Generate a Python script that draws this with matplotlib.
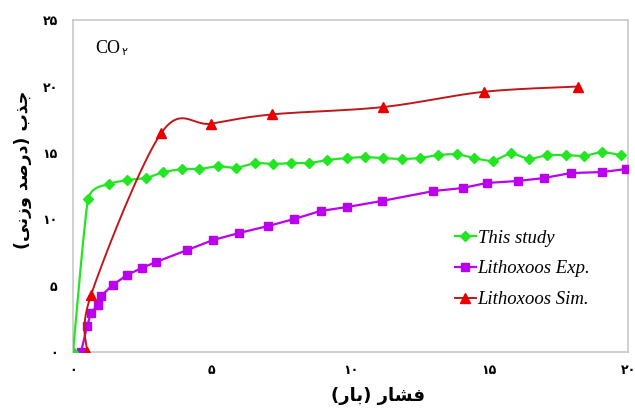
import numpy as np
import matplotlib
matplotlib.use("Agg")
import matplotlib.pyplot as plt

# data
study_x = [0, 0.54, 1.30, 1.95, 2.64, 3.25, 3.94, 4.55, 5.23, 5.88, 6.57, 7.22, 7.87,
           8.52, 9.17, 9.86, 10.51, 11.16, 11.84, 12.49, 13.14, 13.83, 14.44, 15.13,
           15.78, 16.43, 17.08, 17.76, 18.41, 19.06, 19.75]
study_y = [0, 11.5, 12.65, 12.95, 13.1, 13.55, 13.78, 13.78, 14.0, 13.86, 14.23, 14.16,
           14.23, 14.23, 14.46, 14.61, 14.68, 14.61, 14.53, 14.61, 14.83, 14.91, 14.61,
           14.38, 14.98, 14.53, 14.83, 14.83, 14.76, 15.06, 14.83]

exp_x = [0.29, 0.51, 0.65, 0.90, 1.01, 1.44, 1.95, 2.49, 3.0, 4.12, 5.05, 5.99, 7.04,
         7.98, 8.92, 9.89, 11.12, 12.99, 14.04, 14.91, 16.03, 16.97, 17.94, 19.06, 19.93]
exp_y = [0, 1.96, 2.94, 3.54, 4.22, 5.05, 5.80, 6.33, 6.78, 7.68, 8.43, 8.96, 9.49,
         10.02, 10.62, 10.92, 11.37, 12.12, 12.35, 12.73, 12.88, 13.10, 13.48, 13.55, 13.78]

sim_x = [0.5, 0.65, 3.18, 4.98, 7.18, 11.16, 14.8, 18.2]
sim_y = [0, 4.3, 16.5, 17.2, 17.9, 18.45, 19.6, 20.0]

x_ticks = [0, 5, 10, 15, 20]
y_ticks = [0, 5, 10, 15, 20, 25]
fa_digits = "۰۱۲۳۴۵۶۷۸۹"

series_names = ["This study", "Lithoxoos Exp.", "Lithoxoos Sim."]

# shaped persian text, written in visual (left to right) order
x_label = "(\uFEAD\uFE8E\uFE91) \uFEAD\uFE8E\uFEB8\uFED3"
y_label = "(\uFEF0\uFEE7\uFEAF\uFEED \uFEAA\uFEBB\uFEAD\uFEA9) \uFE8F\uFEAC\uFE9F"


def fa(n):
    return "".join(fa_digits[int(c)] for c in str(n))


def smooth(xs, ys, k=6.0, steps=20):
    # excel-like smoothed line: bezier through points, catmull-rom control points
    p = np.column_stack([xs, ys]).astype(float)
    out = [p[0]]
    t = np.linspace(0, 1, steps)[1:, None]
    for i in range(len(p) - 1):
        p0 = p[i - 1] if i > 0 else p[i]
        p1, p2 = p[i], p[i + 1]
        p3 = p[i + 2] if i + 2 < len(p) else p[i + 1]
        c1 = p1 + (p2 - p0) / k
        c2 = p2 - (p3 - p1) / k
        seg = ((1 - t) ** 3) * p1 + 3 * ((1 - t) ** 2) * t * c1 + 3 * (1 - t) * t ** 2 * c2 + t ** 3 * p2
        out.extend(seg)
    out = np.array(out)
    return out[:, 0], out[:, 1]


fig = plt.figure(figsize=(6.35, 4.12), dpi=100)
ax = fig.add_axes([0.115, 0.146, 0.874, 0.805])

green = "#22E622"
purple = "#BB00EE"
red_mk = "#E80000"
red_ln = "#C0181A"

sx, sy = smooth(study_x, study_y, k=12.0)
ax.plot(sx, sy, color=green, lw=1.6, zorder=3)
ax.plot(study_x, study_y, ls="none", marker="D", ms=5.5, color=green, zorder=4)

ax.plot(exp_x, exp_y, color=purple, lw=1.6, marker="s", ms=6, zorder=3)

rx, ry = smooth(sim_x, sim_y)
ax.plot(rx, ry, color=red_ln, lw=1.4, zorder=3)
ax.plot(sim_x, sim_y, ls="none", marker="^", ms=7, color=red_mk, zorder=4)

# legend proxies
h1, = ax.plot([], [], color=green, lw=1.6, marker="D", ms=5)
h2, = ax.plot([], [], color=purple, lw=1.6, marker="s", ms=6)
h3, = ax.plot([], [], color=red_ln, lw=1.4, marker="^", ms=7, mfc=red_mk, mec=red_mk)
ax.legend([h1, h2, h3], series_names, loc="center left", bbox_to_anchor=(0.658, 0.25),
          frameon=False, handlelength=1.1, handletextpad=0.1, labelspacing=0.72,
          prop={"family": "Liberation Serif", "style": "italic", "size": 13.5})

ax.set_xlim(0, 20)
ax.set_ylim(0, 25)
ax.set_xticks(x_ticks)
ax.set_yticks(y_ticks)
ax.set_xticklabels([fa(v) for v in x_ticks], fontsize=9, fontweight="bold")
ax.set_yticklabels([fa(v) for v in y_ticks], fontsize=9, fontweight="bold")
ax.tick_params(length=0, pad=11)
ax.tick_params(axis="x", pad=9)

for s in ax.spines.values():
    s.set_color("#C8C8C8")
    s.set_linewidth(1.2)

ax.set_xlabel(x_label, fontsize=13, fontweight="bold")
ax.set_ylabel(y_label, fontsize=12.5, fontweight="bold")
ax.xaxis.set_label_coords(0.55, -0.105)
ax.yaxis.set_label_coords(-0.074, 0.548)

ax.text(0.04, 0.915, "CO", transform=ax.transAxes, fontsize=13,
        family="Liberation Serif", va="center")
ax.text(0.088, 0.905, "۲", transform=ax.transAxes, fontsize=8, va="center")

fig.savefig("out.png", dpi=100, facecolor="white")
